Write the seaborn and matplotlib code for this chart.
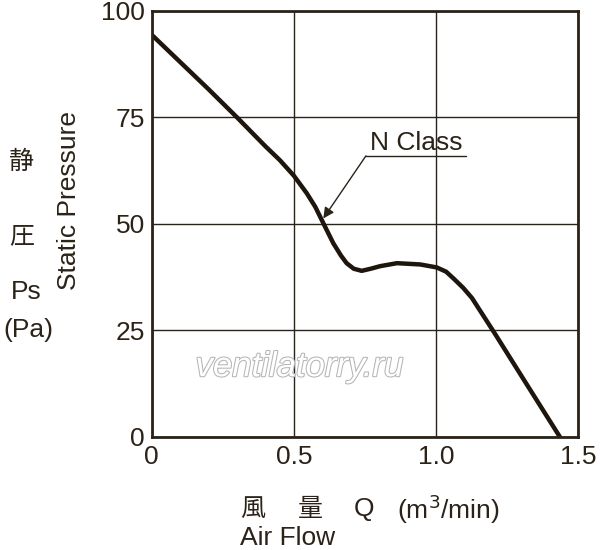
import matplotlib
matplotlib.use("Agg")
import matplotlib.pyplot as plt
import matplotlib.patheffects as pe
import seaborn as sns
import pandas as pd

# Data
airflow = [0.0, 0.1, 0.2, 0.3, 0.4, 0.45, 0.5, 0.545, 0.575, 0.603, 0.638, 0.665, 0.685, 0.71, 0.738,
           0.77, 0.803, 0.862, 0.944, 1.002, 1.035, 1.061, 1.095, 1.126, 1.15, 1.206, 1.3, 1.4, 1.435]
pressure = [94.4, 88.0, 81.6, 75.0, 68.2, 65.0, 61.3, 57.2, 54.0, 50.2, 45.5, 42.6, 40.8, 39.5, 39.0,
            39.5, 40.1, 40.8, 40.5, 39.8, 38.8, 37.2, 35.0, 32.6, 30.1, 24.3, 14.3, 3.7, 0.0]
xticks = [0, 0.5, 1.0, 1.5]
xticklabels = ["0", "0.5", "1.0", "1.5"]
yticks = [0, 25, 50, 75, 100]
yticklabels = ["0", "25", "50", "75", "100"]

ink = "#2b2218"
fs = 19

sns.set_theme(style="white")
plt.rcParams['font.family'] = ['Liberation Sans', 'Noto Sans CJK JP', 'DejaVu Sans']

fig = plt.figure(figsize=(6, 5.5), dpi=100)
ax = fig.add_axes([0.253, 0.2055, 0.711, 0.7745])

df = pd.DataFrame({"Q": airflow, "Ps": pressure})
sns.lineplot(data=df, x="Q", y="Ps", ax=ax, color="#1e150c", linewidth=3.2, sort=False,
             solid_joinstyle='round', solid_capstyle='round')

ax.set_xlim(0, 1.5)
ax.set_ylim(0, 100)
ax.set_xticks(xticks)
ax.set_xticklabels(xticklabels)
ax.set_yticks(yticks)
ax.set_yticklabels(yticklabels)
ax.grid(True, color=ink, linewidth=1.0)
for s in ax.spines.values():
    s.set_visible(True)
    s.set_color(ink)
    s.set_linewidth(2.0)
ax.tick_params(axis='both', colors=ink, labelcolor=ink, labelsize=fs, length=4, width=1.2, direction='out')
ax.tick_params(axis='x', pad=6, length=0)
ax.tick_params(axis='y', pad=1)
ax.set_xlabel("")
ax.set_ylabel("")

# Watermark
ax.text(0.52, 16.5, "ventilatorry.ru", fontsize=25, style='italic', color="white",
        ha='center', va='center',
        path_effects=[pe.withStroke(linewidth=1.5, foreground="#b5b5b5")])

# Annotation "N Class"
ax.text(0.766, 67.4, "N Class", fontsize=fs, color=ink, ha='left', va='baseline')
ax.plot([0.753, 1.106], [66.0, 66.0], color=ink, linewidth=1.0)
ax.annotate("", xy=(0.603, 51.3), xytext=(0.753, 66.0),
            arrowprops=dict(arrowstyle="-|>", color=ink, lw=1.0, mutation_scale=16,
                            shrinkA=0, shrinkB=0))

# Y-axis labels
fig.text(69/600, 1 - 200/550, "Static Pressure", rotation=90, fontsize=fs, color=ink, ha='center', va='center')
fig.text(22/600, 1 - 162/550, "静", fontsize=fs - 1, color=ink, ha='center', va='center')
fig.text(22/600, 1 - 236/550, "圧", fontsize=fs - 1, color=ink, ha='center', va='center')
fig.text(26/600, 1 - 292/550, "Ps", fontsize=fs, color=ink, ha='center', va='center')
fig.text(28/600, 1 - 330/550, "(Pa)", fontsize=fs, color=ink, ha='center', va='center')

# X-axis labels
fig.text(253/600, 1 - 509/550, "風", fontsize=fs - 1, color=ink, ha='center', va='center')
fig.text(310/600, 1 - 509/550, "量", fontsize=fs - 1, color=ink, ha='center', va='center')
fig.text(364/600, 1 - 509/550, "Q", fontsize=fs, color=ink, ha='center', va='center')
fig.text(397/600, 1 - 509/550, "(m$^{3}$/min)", fontsize=fs, color=ink, ha='left', va='center')
fig.text(240/600, 1 - 538/550, "Air Flow", fontsize=fs, color=ink, ha='left', va='center')

fig.savefig("out.png", dpi=100)
